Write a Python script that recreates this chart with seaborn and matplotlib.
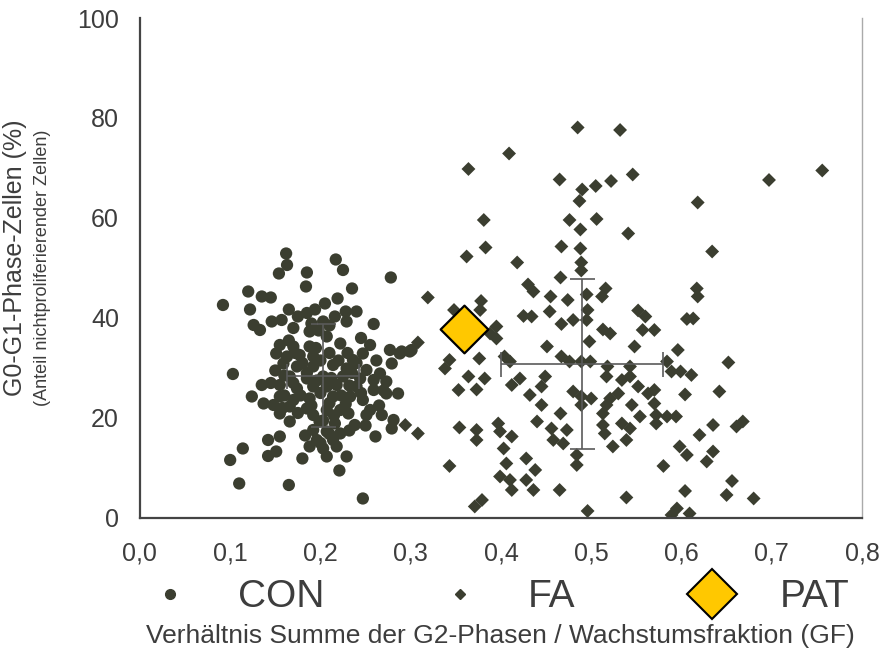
import matplotlib
matplotlib.use("Agg")
import matplotlib.pyplot as plt
from matplotlib.lines import Line2D
import seaborn as sns
import pandas as pd

# CON (Kontrollen) - Punkte
con_x = [0.162, 0.163, 0.154, 0.217, 0.225, 0.185, 0.184, 0.235, 0.278, 0.120,
         0.135, 0.145, 0.092, 0.122, 0.165, 0.175, 0.194, 0.205, 0.219, 0.228,
         0.240, 0.126, 0.133, 0.146, 0.157, 0.190, 0.203, 0.216, 0.229, 0.259,
         0.188, 0.207, 0.222, 0.155, 0.170, 0.188, 0.255, 0.277, 0.288, 0.301,
         0.279, 0.247, 0.151, 0.163, 0.177, 0.192, 0.236, 0.159, 0.174, 0.192,
         0.214, 0.229, 0.251, 0.266, 0.103, 0.166, 0.185, 0.203, 0.225, 0.244,
         0.259, 0.273, 0.135, 0.155, 0.174, 0.192, 0.207, 0.218, 0.240, 0.259,
         0.273, 0.286, 0.124, 0.155, 0.170, 0.188, 0.214, 0.233, 0.247, 0.137,
         0.148, 0.166, 0.185, 0.207, 0.222, 0.255, 0.155, 0.192, 0.251, 0.268,
         0.231, 0.166, 0.199, 0.216, 0.238, 0.281, 0.279, 0.192, 0.207, 0.222,
         0.261, 0.142, 0.155, 0.196, 0.214, 0.188, 0.203, 0.218, 0.114, 0.151,
         0.142, 0.180, 0.207, 0.229, 0.100, 0.221, 0.110, 0.165, 0.247, 0.290,
         0.299,
         # dichter Kern der Punktwolke (geschätzt)
         0.165, 0.172, 0.180, 0.185, 0.195, 0.200, 0.210, 0.212, 0.220, 0.230,
         0.235, 0.240, 0.170, 0.178, 0.196, 0.200, 0.210, 0.223, 0.232, 0.245,
         0.160, 0.150, 0.158, 0.175, 0.190, 0.203, 0.215, 0.228, 0.198, 0.210,
         0.185, 0.170, 0.245, 0.262, 0.270, 0.183, 0.200, 0.210, 0.232, 0.250,
         0.160, 0.145, 0.265]
con_y = [52.9, 50.6, 48.9, 51.7, 49.6, 49.1, 46.3, 45.9, 48.1, 45.3,
         44.3, 44.1, 42.6, 41.7, 41.7, 40.3, 41.7, 42.9, 43.9, 41.3,
         41.3, 38.6, 37.6, 39.3, 39.6, 38.9, 39.3, 40.3, 39.3, 38.8,
         37.3, 36.3, 34.9, 34.6, 34.3, 34.3, 34.6, 33.6, 32.9, 33.6,
         30.9, 32.9, 32.9, 32.3, 32.6, 32.3, 31.6, 30.9, 30.3, 30.3,
         30.6, 29.9, 29.6, 28.9, 28.8, 28.3, 27.9, 28.3, 28.3, 27.9,
         27.6, 27.3, 26.6, 26.6, 25.9, 26.3, 26.3, 26.6, 26.3, 25.6,
         24.9, 24.9, 24.3, 24.3, 23.6, 23.9, 24.3, 24.3, 23.6, 22.9,
         22.6, 22.3, 21.9, 21.6, 21.6, 21.6, 20.9, 20.6, 20.6, 20.6,
         20.9, 19.3, 19.3, 18.9, 18.6, 19.6, 17.9, 17.6, 17.3, 16.9,
         16.3, 15.6, 16.3, 15.6, 15.6, 14.3, 13.9, 14.3, 13.9, 13.3,
         12.4, 11.9, 12.3, 12.3, 11.6, 9.5, 6.9, 6.6, 3.9, 33.3,
         33.3,
         35.5, 33.0, 31.0, 29.0, 34.0, 31.5, 33.0, 28.0, 31.5, 33.0,
         29.0, 31.0, 27.0, 24.5, 27.5, 25.0, 23.0, 24.5, 26.5, 25.0,
         28.5, 29.5, 22.0, 21.0, 22.5, 19.5, 20.5, 22.8, 37.5, 38.5,
         41.0, 38.0, 36.0, 31.5, 25.5, 16.5, 15.0, 16.8, 17.5, 18.5,
         24.5, 27.0, 22.5]

# FA (Fanconi-Anämie)
fa_x = [0.485, 0.532, 0.409, 0.364, 0.465, 0.490, 0.505, 0.522, 0.546, 0.697,
        0.756, 0.487, 0.618, 0.381, 0.476, 0.506, 0.488, 0.541, 0.383, 0.362,
        0.467, 0.488, 0.418, 0.489, 0.489, 0.634, 0.466, 0.617, 0.618, 0.319,
        0.378, 0.430, 0.436, 0.455, 0.474, 0.495, 0.516, 0.512, 0.348, 0.377,
        0.425, 0.434, 0.454, 0.496, 0.552, 0.560, 0.606, 0.613, 0.395, 0.395,
        0.388, 0.467, 0.480, 0.495, 0.513, 0.521, 0.557, 0.570, 0.308, 0.376,
        0.343, 0.338, 0.451, 0.498, 0.548, 0.596, 0.652, 0.404, 0.410, 0.467,
        0.476, 0.489, 0.499, 0.518, 0.543, 0.584, 0.589, 0.599, 0.611, 0.364,
        0.382, 0.421, 0.449, 0.517, 0.534, 0.543, 0.353, 0.373, 0.412, 0.445,
        0.480, 0.552, 0.570, 0.604, 0.642, 0.432, 0.489, 0.500, 0.521, 0.530,
        0.563, 0.445, 0.489, 0.517, 0.545, 0.570, 0.466, 0.513, 0.554, 0.572,
        0.584, 0.594, 0.440, 0.456, 0.473, 0.513, 0.534, 0.543, 0.572, 0.635,
        0.661, 0.668, 0.294, 0.308, 0.354, 0.373, 0.397, 0.373, 0.399, 0.412,
        0.458, 0.469, 0.515, 0.524, 0.539, 0.598, 0.606, 0.620, 0.635, 0.628,
        0.403, 0.484, 0.343, 0.428, 0.406, 0.484, 0.580, 0.399, 0.410, 0.428,
        0.438, 0.436, 0.412, 0.465, 0.656, 0.604, 0.650, 0.680, 0.539, 0.379,
        0.371, 0.496, 0.595, 0.589, 0.609]
fa_y = [78.1, 77.6, 72.9, 69.8, 67.7, 65.7, 66.4, 67.4, 68.7, 67.6,
        69.5, 63.4, 63.1, 59.6, 59.6, 59.8, 57.7, 56.9, 54.1, 52.3,
        54.3, 53.9, 51.1, 51.1, 49.5, 53.3, 48.1, 45.9, 44.3, 44.1,
        43.4, 46.7, 45.3, 44.3, 43.6, 44.7, 45.9, 44.3, 41.6, 41.6,
        40.4, 40.3, 41.3, 41.6, 41.5, 40.3, 39.8, 39.9, 38.3, 35.9,
        36.9, 38.8, 39.6, 39.6, 37.7, 36.9, 37.6, 37.6, 35.1, 31.9,
        31.6, 29.9, 34.3, 35.3, 34.3, 33.6, 31.1, 32.3, 31.3, 32.3,
        31.3, 31.3, 31.3, 30.3, 30.3, 31.3, 29.3, 29.3, 28.6, 28.3,
        27.9, 27.9, 28.3, 28.3, 27.6, 28.3, 25.6, 25.7, 26.6, 26.3,
        25.3, 26.3, 25.6, 24.7, 25.3, 24.6, 24.3, 23.9, 23.9, 24.9,
        24.9, 22.6, 22.6, 22.6, 22.6, 22.9, 20.9, 20.9, 20.3, 20.6,
        20.3, 20.3, 19.3, 17.9, 17.6, 18.6, 18.9, 17.9, 18.9, 18.6,
        18.3, 19.3, 18.6, 16.9, 18.1, 17.6, 18.9, 15.6, 17.3, 16.3,
        15.6, 14.9, 16.9, 14.3, 15.6, 14.3, 12.6, 16.6, 13.3, 11.3,
        13.9, 12.6, 10.4, 11.9, 10.9, 10.6, 10.4, 8.3, 7.6, 7.6,
        9.6, 5.6, 5.6, 5.6, 7.4, 5.4, 4.6, 3.9, 4.1, 3.6,
        2.3, 1.4, 1.9, 0.6, 0.9]

# PAT (Patient)
pat_x = [0.359]
pat_y = [37.7]

# Mittelwerte +/- SD (Fehlerkreuze)
group_names = ["CON", "FA"]
mean_x = [0.203, 0.490]
mean_y = [28.4, 30.7]
sd_x = [0.040, 0.090]
sd_y = [10.3, 17.0]

xticks = [0.0, 0.1, 0.2, 0.3, 0.4, 0.5, 0.6, 0.7, 0.8]
xtick_labels = ["0,0", "0,1", "0,2", "0,3", "0,4", "0,5", "0,6", "0,7", "0,8"]
yticks = [0, 20, 40, 60, 80, 100]

pt_color = "#3b3e30"
txt_color = "#3d3d3d"
pat_color = "#ffc800"

sns.set_style("white")
plt.rcParams["font.family"] = ["Liberation Sans", "DejaVu Sans"]

df_con = pd.DataFrame({"x": con_x, "y": con_y})
df_fa = pd.DataFrame({"x": fa_x, "y": fa_y})
df_pat = pd.DataFrame({"x": pat_x, "y": pat_y})

fig = plt.figure(figsize=(8.8, 6.57), dpi=100)
ax = fig.add_axes([0.159, 0.2116, 0.8205, 0.761])

sns.scatterplot(data=df_fa, x="x", y="y", marker="D", s=50, color=pt_color,
                edgecolor="none", ax=ax, zorder=2)
sns.scatterplot(data=df_con, x="x", y="y", marker="o", s=78, color=pt_color,
                edgecolor="none", ax=ax, zorder=2)

ax.errorbar(mean_x, mean_y, xerr=sd_x, yerr=sd_y, fmt="none", ecolor="#5a5a5a",
            elinewidth=1.2, capsize=9, capthick=1.2, zorder=3)

sns.scatterplot(data=df_pat, x="x", y="y", marker="D", s=590, color=pat_color,
                edgecolor="black", linewidth=1.6, ax=ax, zorder=4)

ax.set_xlim(0, 0.8)
ax.set_ylim(0, 100)
ax.set_xticks(xticks)
ax.set_xticklabels(xtick_labels, fontsize=18, color=txt_color)
ax.set_yticks(yticks)
ax.set_yticklabels([str(v) for v in yticks], fontsize=18, color=txt_color)
ax.tick_params(axis="both", direction="out", length=7, width=1.4, color="#444444")
ax.tick_params(axis="x", pad=10)
ax.tick_params(axis="y", pad=8)

for side in ["left", "bottom"]:
    ax.spines[side].set_color("#444444")
    ax.spines[side].set_linewidth(1.6)
ax.spines["top"].set_visible(False)
ax.spines["right"].set_color("#aaaaaa")
ax.spines["right"].set_linewidth(1.0)

ax.set_xlabel("Verhältnis Summe der G2-Phasen / Wachstumsfraktion (GF)",
              fontsize=19, color=txt_color)
ax.xaxis.set_label_coords(0.499, -0.212)
ax.set_ylabel("G0-G1-Phase-Zellen (%)", fontsize=18, color=txt_color)
ax.yaxis.set_label_coords(-0.156, 0.52)
ax.text(-0.135, 0.50, "(Anteil nichtproliferierender Zellen)", transform=ax.transAxes,
        rotation=90, ha="center", va="center", fontsize=13, color=txt_color)

handles = [
    Line2D([], [], marker="o", ls="none", color=pt_color, markersize=7),
    Line2D([], [], marker="D", ls="none", color=pt_color, markersize=5.5),
    Line2D([], [], marker="D", ls="none", markerfacecolor=pat_color,
           markeredgecolor="black", markeredgewidth=1.5, markersize=25),
]
leg = fig.legend(handles, ["CON", "FA", "PAT"], ncol=3, loc="center",
                 bbox_to_anchor=(0.568, 0.091), frameon=False,
                 handlelength=1.0, handletextpad=1.25, columnspacing=3.0,
                 prop={"size": 28})
for t in leg.get_texts():
    t.set_color(txt_color)

fig.savefig("out.png", dpi=100)
